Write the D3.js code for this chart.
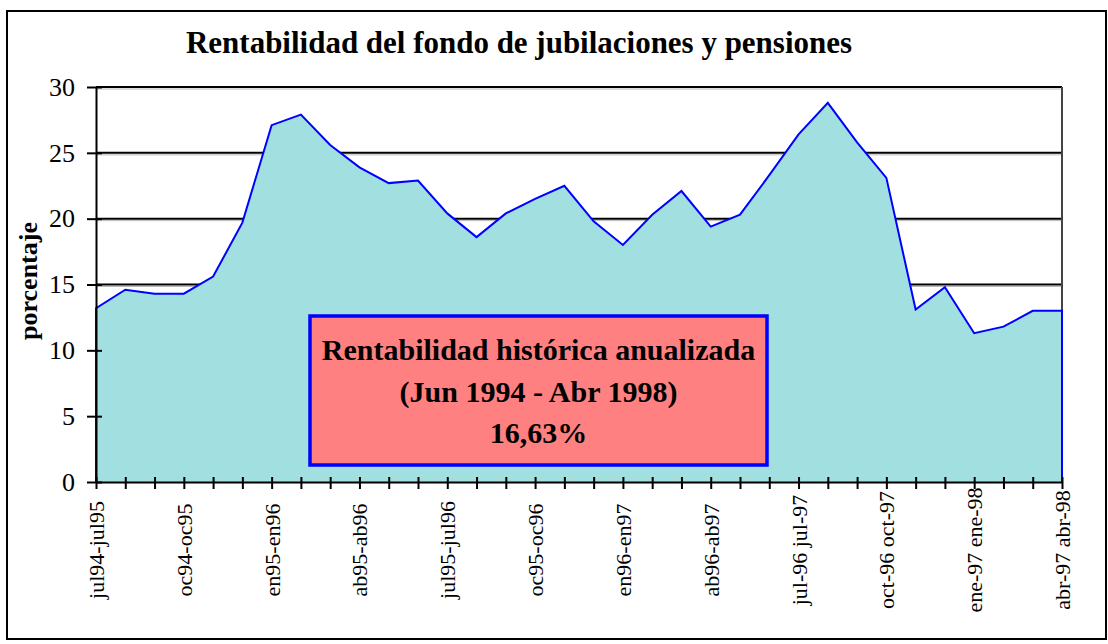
<!DOCTYPE html>
<html>
<head>
<meta charset="utf-8">
<script src="https://cdn.jsdelivr.net/npm/d3@7"></script>
<style>
  html, body { margin: 0; padding: 0; background: #fff; }
  svg, svg text { font-family: "Liberation Serif", "Times New Roman", Times, serif !important; }
</style>
</head>
<body>
<svg id="chart" width="1108" height="644"></svg>
<script>
// ---- data ----
const titleText = "Rentabilidad del fondo de jubilaciones y pensiones";
const yLabel = "porcentaje";
// monthly 12-month returns, 34 points (jul94-jul95 ... abr-97 abr-98)
const values = [13.2, 14.6, 14.3, 14.3, 15.6, 19.7, 27.1, 27.9, 25.6, 23.9,
                22.7, 22.9, 20.4, 18.6, 20.4, 21.5, 22.5, 19.8, 18.0, 20.3,
                22.1, 19.4, 20.3, 23.3, 26.4, 28.8, 25.8, 23.1, 13.1, 14.8,
                11.3, 11.8, 13.0, 13.0];
// labels shown every third month
const tickLabels = ["jul94-jul95", "oc94-oc95", "en95-en96", "ab95-ab96",
                    "jul95-jul96", "oc95-oc96", "en96-en97", "ab96-ab97",
                    "jul-96 jul-97", "oct-96 oct-97", "ene-97 ene-98", "abr-97 abr-98"];
const labelStep = 3;
const yTicks = [0, 5, 10, 15, 20, 25, 30];
const boxLines = ["Rentabilidad histórica anualizada", "(Jun 1994 - Abr 1998)", "16,63%"];

// ---- layout ----
const FONT = "'Liberation Serif', 'Times New Roman', serif";
const svg = d3.select("#chart").attr("font-family", FONT);
const pL = 96, pR = 1062, pT = 87, pB = 482;

const x = d3.scaleLinear().domain([0, values.length - 1]).range([pL, pR]);
const y = d3.scaleLinear().domain([0, 30]).range([pB, pT]);

// outer frame
svg.append("rect").attr("x", 7).attr("y", 11).attr("width", 1099).attr("height", 628)
  .attr("fill", "#fff").attr("stroke", "#000").attr("stroke-width", 2);

// title
svg.append("text").attr("x", 519).attr("y", 53).attr("font-family", FONT)
  .attr("text-anchor", "middle").attr("font-weight", "bold").attr("font-size", 31)
  .attr("textLength", 666).attr("lengthAdjust", "spacingAndGlyphs")
  .text(titleText);

// gridlines
const grid = svg.append("g");
yTicks.filter(d => d > 0).forEach(d => {
  grid.append("line").attr("x1", pL).attr("x2", pR)
    .attr("y1", y(d) + 2).attr("y2", y(d) + 2)
    .attr("stroke", "#b8b8b8").attr("stroke-width", 1);
  grid.append("line").attr("x1", pL).attr("x2", pR)
    .attr("y1", y(d)).attr("y2", y(d))
    .attr("stroke", "#000").attr("stroke-width", 2);
});
// right border of plot
svg.append("line").attr("x1", pR).attr("x2", pR).attr("y1", pT).attr("y2", pB)
  .attr("stroke", "#444").attr("stroke-width", 2);

// area
const area = d3.area().x((d, i) => x(i)).y0(y(0)).y1(d => y(d));
svg.append("path").datum(values).attr("d", area)
  .attr("fill", "#a2dfe0").attr("stroke", "none");
// outline: left edge + top line + right edge
const pts = values.map((d, i) => [x(i), y(d)]);
const outline = [[x(0), y(0)], ...pts, [x(values.length - 1), y(0)]];
svg.append("path").attr("d", d3.line()(outline))
  .attr("fill", "none").attr("stroke", "#0000ff").attr("stroke-width", 2)
  .attr("stroke-linejoin", "miter");

// y axis
const yAxis = svg.append("g").attr("transform", `translate(${pL},0)`)
  .call(d3.axisLeft(y).tickValues(yTicks).tickSize(0).tickPadding(21));
yAxis.attr("font-family", FONT).attr("font-size", 26);
yAxis.select(".domain").attr("stroke", "#000").attr("stroke-width", 2);
yAxis.selectAll("text").attr("font-size", 26).attr("fill", "#000")
  .attr("font-family", FONT);
yAxis.selectAll(".tick").append("line")
  .attr("x1", -9).attr("x2", 6).attr("stroke", "#000").attr("stroke-width", 2);

// x axis
const xAxis = svg.append("g").attr("transform", `translate(0,${pB})`)
  .call(d3.axisBottom(x).tickValues(d3.range(values.length)).tickSize(0).tickFormat(""));
xAxis.select(".domain").attr("stroke", "#000").attr("stroke-width", 2);
xAxis.selectAll(".tick").append("line")
  .attr("y1", -5).attr("y2", 7).attr("stroke", "#000").attr("stroke-width", 2);

// x labels (every third category)
svg.append("g").selectAll("text").data(tickLabels).join("text")
  .attr("transform", (d, i) => `translate(${x(i * labelStep) + 8},550) rotate(-90)`)
  .attr("text-anchor", "middle").attr("font-size", 22).attr("fill", "#000")
  .attr("font-family", FONT)
  .text(d => d);

// y axis title
svg.append("text").attr("transform", "translate(37,281) rotate(-90)")
  .attr("text-anchor", "middle").attr("font-weight", "bold").attr("font-size", 26)
  .attr("font-family", FONT)
  .text(yLabel);

// annotation box
svg.append("rect").attr("x", 310).attr("y", 316).attr("width", 457).attr("height", 149)
  .attr("fill", "#ff8080").attr("stroke", "#0000ff").attr("stroke-width", 3.5);
svg.append("g").selectAll("text").data(boxLines).join("text")
  .attr("x", 538.5).attr("y", (d, i) => 360 + i * 41.5)
  .attr("text-anchor", "middle").attr("font-weight", "bold").attr("font-size", 30)
  .attr("font-family", FONT)
  .text(d => d);
</script>
</body>
</html>
